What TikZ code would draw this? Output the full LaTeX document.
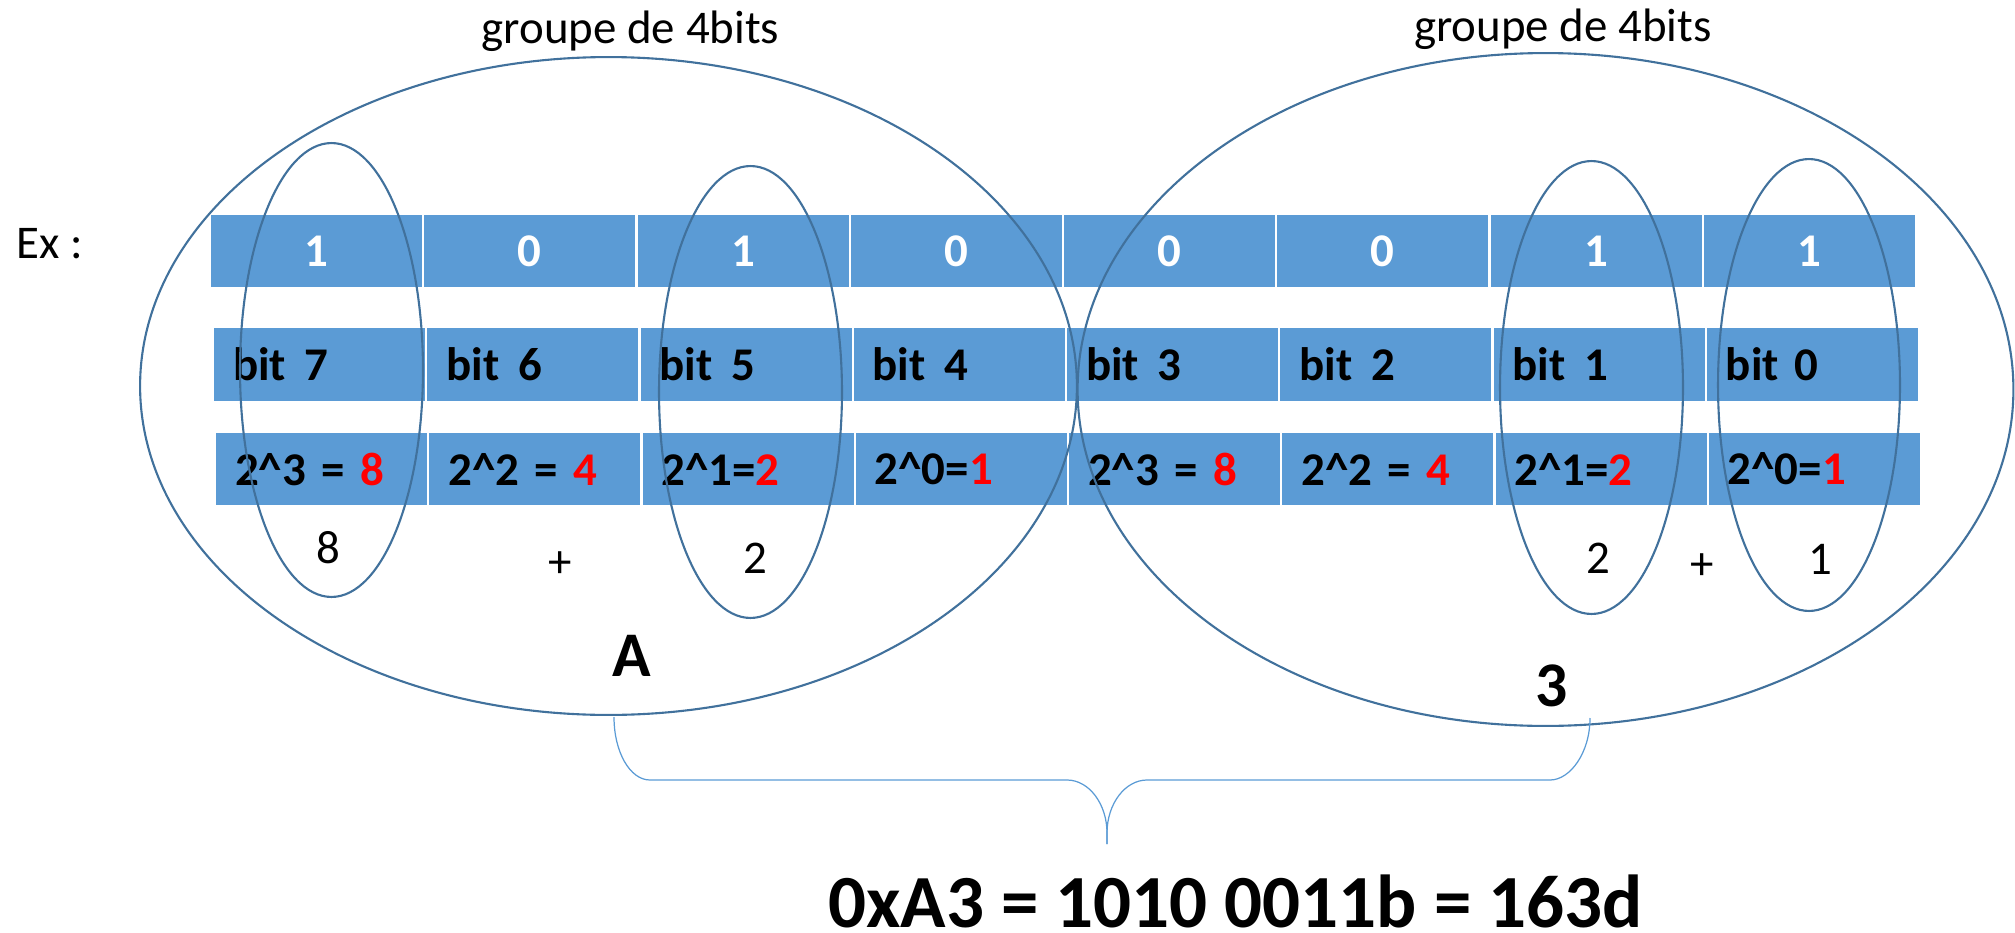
\documentclass[tikz,border=0pt]{standalone}
\usepackage{fontspec}
\setmainfont{Carlito}
\usetikzlibrary{positioning,shapes.geometric}
\definecolor{cellblue}{HTML}{5B9BD5}
\definecolor{ringblue}{HTML}{41719C}
\newcommand{\bitno}[1]{bit\hspace{0.4em}#1}

\begin{document}
\begin{tikzpicture}[x=0.02cm, y=-0.02cm, node distance=0.46mm,
  cell/.style={fill=cellblue, inner sep=0pt, outer sep=0pt, minimum width=4.22cm, minimum height=1.44cm, font=\fontsize{26.7}{32}\selectfont\bfseries},
  bitcell/.style={cell, text=white},
  namecell/.style={cell, minimum height=1.46cm, text width=3.46cm, inner xsep=0.38cm, align=left},
  ring/.style={draw=ringblue, line width=1.2pt, ellipse, inner sep=0pt},
  plain/.style={font=\fontsize{26.7}{32}\selectfont, inner sep=0pt},
  big/.style={font=\fontsize{36.2}{40}\selectfont\bfseries, inner sep=0pt},
  brace/.style={draw=cellblue, line width=0.7pt}]
  \useasboundingbox (0,0) rectangle (2015,933);

  \node[bitcell] (v7) at (316.5,251) {1};
  \node[bitcell, right=of v7] (v6) {0};
  \node[bitcell, right=of v6] (v5) {1};
  \node[bitcell, right=of v5] (v4) {0};
  \node[bitcell, right=of v4] (v3) {0};
  \node[bitcell, right=of v3] (v2) {0};
  \node[bitcell, right=of v2] (v1) {1};
  \node[bitcell, right=of v1] (v0) {1};

  \node[namecell] (n7) at (319.5,364.5) {\bitno{7}};
  \node[namecell, right=of n7] (n6) {\bitno{6}};
  \node[namecell, right=of n6] (n5) {\bitno{5}};
  \node[namecell, right=of n5] (n4) {\bitno{4}};
  \node[namecell, right=of n4] (n3) {\bitno{3}};
  \node[namecell, right=of n3] (n2) {\bitno{2}};
  \node[namecell, right=of n2] (n1) {\bitno{1}};
  \node[namecell, right=of n1] (n0) {bit 0};

  \node[namecell] (w7) at (321.5,469) {2\textasciicircum3 = \textcolor{red}{8}};
  \node[namecell, right=of w7] (w6) {2\textasciicircum2 = \textcolor{red}{4}};
  \node[namecell, right=of w6] (w5) {2\textasciicircum1=\textcolor{red}{2}};
  \node[namecell, right=of w5] (w4) {2\textasciicircum0=\textcolor{red}{1}};
  \node[namecell, right=of w4] (w3) {2\textasciicircum3 = \textcolor{red}{8}};
  \node[namecell, right=of w3] (w2) {2\textasciicircum2 = \textcolor{red}{4}};
  \node[namecell, right=of w2] (w1) {2\textasciicircum1=\textcolor{red}{2}};
  \node[namecell, right=of w1] (w0) {2\textasciicircum0=\textcolor{red}{1}};

  \node[ring, minimum width=18.74cm, minimum height=13.16cm] (grpA) at (608.5,386) {};
  \node[ring, minimum width=18.72cm, minimum height=13.46cm] (grpB) at (1545.5,389.5) {};
  \node[ring, minimum width=3.66cm, minimum height=9.08cm] (e7) at (331.5,370) {};
  \node[ring, minimum width=3.66cm, minimum height=9.04cm] (e5) at (750.5,392) {};
  \node[ring, minimum width=3.66cm, minimum height=9.06cm] (e1) at (1591.5,387.5) {};
  \node[ring, minimum width=3.64cm, minimum height=9.04cm] (e0) at (1809,385) {};

  \node[plain, anchor=base] (titleA) at (630.5,43) {groupe de 4bits};
  \node[plain, anchor=base] (titleB) at (1563,41) {groupe de 4bits};
  \node[plain, anchor=base west] (ex) at (16,258) {Ex :};

  \node[plain, anchor=base] (s8) at (328,563) {8};
  \node[plain, anchor=base] (plusA) at (560,577) {+};
  \node[plain, anchor=base] (s2) at (755,573) {2};
  \node[plain, anchor=base] (s2b) at (1598,573) {2};
  \node[plain, anchor=base] (plusB) at (1702,579) {+};
  \node[plain, anchor=base] (s1) at (1820,574) {1};

  \node[big, anchor=base] (hexA) at (632,676) {A};
  \node[big, anchor=base] (hex3) at (1552,706) {3};

  \coordinate (braceL) at (614,717);
  \coordinate (braceR) at (1590,718);
  \coordinate (braceTip) at (1107,844);
  \draw[brace] (braceL) .. controls (614,752) and (630,780) .. (650,780) -- (1067,780)
    .. controls (1089,780) and (1107,804) .. (1107,833) -- (braceTip);
  \draw[brace] (braceTip) -- (1107,833) .. controls (1107,804) and (1125,780) .. (1147,780)
    -- (1550,780) .. controls (1570,780) and (1590,753) .. (braceR);

  \node[font=\fontsize{42.7}{48}\selectfont\bfseries, inner sep=0pt, anchor=base] (result) at (1235.5,927) {0xA3 = 1010 0011b = 163d};
\end{tikzpicture}
\end{document}
